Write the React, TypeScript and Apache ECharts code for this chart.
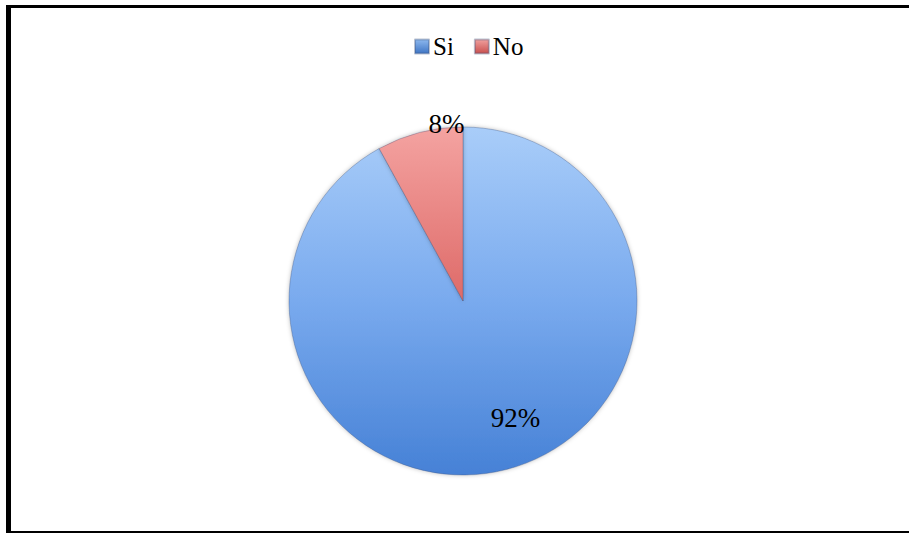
import React, { useEffect, useRef } from "react";
import * as echarts from "echarts";

const categories = ["Si", "No"];
const values = [92, 8];
const labelTexts = ["92%", "8%"];

export default function App() {
  const ref = useRef<HTMLDivElement>(null);
  useEffect(() => {
    if (!ref.current) return;
    const chart = echarts.init(ref.current, null, { renderer: "svg" });
    const siColor = new echarts.graphic.LinearGradient(0, 0, 0, 1, [
      { offset: 0, color: "#a9cdf9" },
      { offset: 0.5, color: "#79aaee" },
      { offset: 1, color: "#4681d6" },
    ]);
    const noColor = new echarts.graphic.LinearGradient(0, 0, 0, 1, [
      { offset: 0, color: "#f4a3a1" },
      { offset: 1, color: "#de6a68" },
    ]);
    const colors = [siColor, noColor];
    const legendIconColors = [
      new echarts.graphic.LinearGradient(0, 0, 0, 1, [
        { offset: 0, color: "#8db8ee" },
        { offset: 1, color: "#3f75c4" },
      ]),
      new echarts.graphic.LinearGradient(0, 0, 0, 1, [
        { offset: 0, color: "#f0a09e" },
        { offset: 1, color: "#c9504e" },
      ]),
    ];
    const offsets = [[30, 30], [6, -90]];
    chart.setOption({
      animation: false,
      backgroundColor: "#ffffff",
      legend: {
        top: 29,
        left: 409,
        itemWidth: 14,
        itemHeight: 14,
        itemGap: 20,
        icon: "rect",
        textStyle: { fontFamily: "Liberation Serif", fontSize: 25, color: "#000", padding: [0, 0, 0, -1] },
        data: categories.map((c, i) => ({ name: c, itemStyle: { color: legendIconColors[i] } })),
      },
      graphic: [
        { type: "rect", shape: { x: 6, y: 5, width: 903, height: 3 }, style: { fill: "#000" } },
        { type: "rect", shape: { x: 6, y: 5, width: 5, height: 528 }, style: { fill: "#000" } },
        { type: "rect", shape: { x: 6, y: 531, width: 903, height: 2 }, style: { fill: "#000" } },
      ],
      series: [
        {
          type: "pie",
          center: [463, 301],
          radius: 174,
          startAngle: 90,
          clockwise: true,
          labelLine: { show: false },
          emphasis: { disabled: true },
          itemStyle: {
            borderColor: "rgba(60,80,120,0.35)",
            borderWidth: 1,
            shadowBlur: 4,
            shadowColor: "rgba(0,0,0,0.25)",
          },
          data: categories.map((c, i) => ({
            name: c,
            value: values[i],
            itemStyle: { color: colors[i] },
            label: {
              show: true,
              position: "inner",
              formatter: labelTexts[i],
              fontFamily: "Liberation Serif",
              fontSize: 27,
              color: "#000",
              offset: offsets[i],
            },
          })),
        },
      ],
    });
    return () => chart.dispose();
  }, []);
  return (
    <div
      ref={ref}
      style={{ position: "fixed", left: 0, top: 0, width: 909, height: 533 }}
    />
  );
}
